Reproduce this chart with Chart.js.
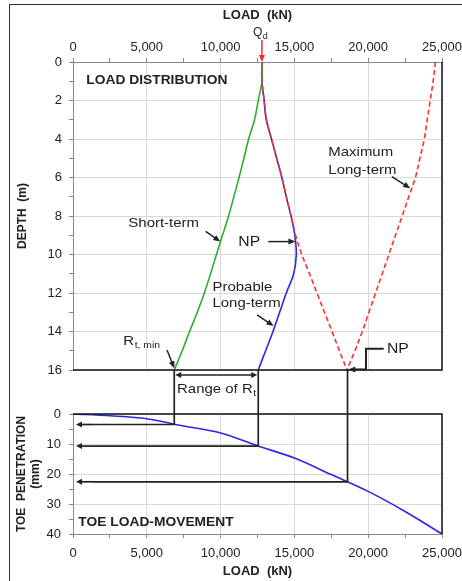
<!DOCTYPE html>
<html lang="en">
<head>
<meta charset="UTF-8">
<title>Load distribution and toe load-movement</title>
<script src="https://cdn.jsdelivr.net/npm/chart.js"></script>
<style>
    html, body { margin: 0; padding: 0; background: #fff; overflow: hidden; }
    #wrap { position: relative; width: 462px; height: 581px; overflow: hidden; }
    #frame { position: absolute; left: 9px; top: 4px; width: 480px; height: 600px;
             border-top: 1.5px solid #333; border-left: 1.5px solid #333; }
    #topChart { position: absolute; left: 0; top: 0; }
    #toeChart { position: absolute; left: 0; top: 360px; }
</style>
</head>
<body>
<div id="wrap">
    <div id="frame"></div>
    <canvas id="topChart" width="470" height="400"></canvas>
    <canvas id="toeChart" width="470" height="221"></canvas>
</div>
<script>
    // depth (m), shared by the load distribution curves
    const depths = [0, 1, 2, 3, 4, 5, 6, 7, 8, 9, 10, 11, 12, 13, 14, 15, 16];
    // short-term load (kN)
    const shortTerm = [12800, 12800, 12550, 12300, 11900, 11580, 11250, 10900, 10540, 10130, 9720, 9320, 8900, 8420, 7900, 7400, 6860];
    // probable long-term
    const probable = [12800, 12800, 12950, 13100, 13450, 13800, 14150, 14450, 14770, 15030, 15130, 14950, 14450, 14000, 13550, 13050, 12550];
    // maximum long-term (red dashed): branch above the NP and branch below it
    const maxUpper = [12800, 12800, 12950, 13100, 13450, 13800, 14150, 14450, 14770, 15080, 15500, 16020, 16530, 17040, 17550, 18050, 18560];
    const maxLower = [24550, 24400, 24200, 24000, 23800, 23500, 23200, 22750, 22300, 21850, 21400, 20950, 20500, 20050, 19600, 19100, 18560];
    // toe load-movement
    const toeLoads = [0, 2500, 5000, 7500, 10000, 12500, 15000, 17500, 20000, 22500, 25000];
    const toeMoves = [0, 0.6, 1.6, 4.0, 6.3, 10.6, 14.7, 20.2, 25.8, 32.5, 40];
    // toe resistances carried down to the load-movement curve
    const rtLoads = [6860, 12550, 18600];
    const rtMoves = [3.5, 10.7, 22.6];

    const FONT = "'Liberation Sans', Arial, sans-serif";
    const INK = '#222';

    function pts(xs, ys) {
        return xs.map((v, i) => ({x: v, y: ys[i]}));
    }

    function arrowTo(ctx, x1, y1, x2, y2, opt) {
        const o = Object.assign({color: INK, width: 1.5, head: 7, spread: 3}, opt);
        const a = Math.atan2(y2 - y1, x2 - x1);
        const c = Math.cos(a), s = Math.sin(a);
        ctx.save();
        ctx.strokeStyle = o.color;
        ctx.fillStyle = o.color;
        ctx.lineWidth = o.width;
        ctx.beginPath();
        ctx.moveTo(x1, y1);
        ctx.lineTo(x2 - c * o.head * 0.8, y2 - s * o.head * 0.8);
        ctx.stroke();
        ctx.beginPath();
        ctx.moveTo(x2, y2);
        ctx.lineTo(x2 - o.head * c + o.spread * s, y2 - o.head * s - o.spread * c);
        ctx.lineTo(x2 - o.head * c - o.spread * s, y2 - o.head * s + o.spread * c);
        ctx.closePath();
        ctx.fill();
        ctx.restore();
    }

    function note(ctx, text, x, y, size, opt) {
        const o = Object.assign({bold: false, stretch: 1.15, sub: null}, opt);
        ctx.save();
        ctx.fillStyle = INK;
        ctx.textBaseline = 'middle';
        ctx.textAlign = 'left';
        ctx.font = (o.bold ? 'bold ' : '') + size + 'px ' + FONT;
        ctx.translate(x, y);
        ctx.scale(o.stretch, 1);
        ctx.fillText(text, 0, 0);
        if (o.sub) {
            const w = ctx.measureText(text).width;
            ctx.font = Math.round(size * 0.72) + 'px ' + FONT;
            ctx.fillText(o.sub, w + 0.5, size * 0.32);
        }
        ctx.restore();
    }

    function polyline(ctx, list, color, width) {
        ctx.save();
        ctx.strokeStyle = color;
        ctx.lineWidth = width;
        ctx.beginPath();
        list.forEach((p, i) => i ? ctx.lineTo(p[0], p[1]) : ctx.moveTo(p[0], p[1]));
        ctx.stroke();
        ctx.restore();
    }

    const fmt = v => v.toLocaleString('en-US');

    const topNotes = {
        id: 'topNotes',
        afterDraw(chart) {
            const {ctx, chartArea: a, scales: {x, y}} = chart;
            const X = v => x.getPixelForValue(v);
            const Y = v => y.getPixelForValue(v);

            polyline(ctx, [[a.right, a.top], [a.right, a.bottom], [a.left, a.bottom]], '#111', 1.5);

            // Qd
            const qx = X(shortTerm[0]);
            arrowTo(ctx, qx, a.top - 22, qx, a.top, {color: '#f03030', width: 1.5, head: 7, spread: 3});
            note(ctx, 'Q', qx - 9, a.top - 29, 12, {stretch: 1, sub: 'd'});

            note(ctx, 'LOAD DISTRIBUTION', X(900), Y(0.95), 12, {bold: true});

            note(ctx, 'Short-term', X(3750), Y(8.36), 13);
            arrowTo(ctx, X(8990), Y(8.8), X(9980), Y(9.33));

            note(ctx, 'NP', X(11200), Y(9.33), 15, {stretch: 1.05});
            arrowTo(ctx, X(13230), Y(9.33), X(15070), Y(9.33));

            note(ctx, 'Maximum', X(17300), Y(4.68), 13);
            note(ctx, 'Long-term', X(17300), Y(5.61), 13);
            arrowTo(ctx, X(21600), Y(5.95), X(22850), Y(6.56));

            note(ctx, 'Probable', X(9450), Y(11.69), 13);
            note(ctx, 'Long-term', X(9450), Y(12.52), 13);
            arrowTo(ctx, X(12470), Y(13.14), X(13590), Y(13.71));

            note(ctx, 'R', X(3410), Y(14.53), 13, {sub: 't, min'});
            arrowTo(ctx, X(6370), Y(14.96), X(6860), Y(15.91));

            // range of Rt
            const r1 = X(shortTerm[shortTerm.length - 1]) + 1;
            const r2 = X(probable[probable.length - 1]) - 1;
            const ry = Y(16.26);
            const rm = (r1 + r2) / 2;
            arrowTo(ctx, rm, ry, r1, ry, {head: 6});
            arrowTo(ctx, rm, ry, r2, ry, {head: 6});
            note(ctx, 'Range of R', X(7050), Y(17.02), 13, {sub: 't'});

            // lower NP
            note(ctx, 'NP', X(21270), Y(14.9), 15, {stretch: 1.05});
            polyline(ctx, [[X(21050), Y(14.9)], [X(19850), Y(14.9)], [X(19850), Y(15.97)]], INK, 2);
            arrowTo(ctx, X(19850), Y(15.97), X(18650), Y(15.97), {width: 2});
        }
    };

    const toeNotes = {
        id: 'toeNotes',
        afterDraw(chart) {
            const {ctx, chartArea: a, scales: {x, y}} = chart;
            const X = v => x.getPixelForValue(v);
            const Y = v => y.getPixelForValue(v);

            polyline(ctx, [[a.left, a.top], [a.right, a.top], [a.right, a.bottom]], '#111', 1.5);

            note(ctx, 'TOE LOAD-MOVEMENT', X(360), Y(36.1), 12, {bold: true});

            // carry the toe resistances down from the load distribution
            const shift = chart.canvas.offsetTop - topChart.canvas.offsetTop;
            const yStart = topChart.chartArea.bottom - shift;
            rtLoads.forEach((load, i) => {
                const px = X(load);
                const py = Y(rtMoves[i]);
                polyline(ctx, [[px, yStart], [px, py], [a.left + 20, py]], INK, 1.7);
                arrowTo(ctx, a.left + 20, py, a.left + 3, py, {width: 1.7, head: 6});
            });
        }
    };

    function axisTicks(step, major) {
        return {
            stepSize: step,
            autoSkip: false,
            maxRotation: 0,
            color: INK,
            font: {family: FONT, size: 13},
            callback: v => (Math.abs(v % major) < 1e-9 ? fmt(v) : '')
        };
    }

    function axisGrid(major) {
        return {
            color: c => (c.tick && Math.abs(c.tick.value % major) < 1e-9 ? '#d9d9d9' : 'rgba(0,0,0,0)'),
            tickColor: '#888',
            tickLength: 4,
            lineWidth: 1
        };
    }

    function curve(label, xs, ys, color, dashed) {
        return {
            label: label,
            data: pts(xs, ys),
            showLine: true,
            borderColor: color,
            borderWidth: 1.6,
            borderDash: dashed ? [5, 3] : [],
            tension: 0.35,
            pointRadius: 0
        };
    }

    const topChart = new Chart(document.getElementById('topChart'), {
        type: 'scatter',
        data: {
            datasets: [
                curve('Maximum Long-term (upper)', maxUpper, depths, '#ff3030', true),
                curve('Maximum Long-term (lower)', maxLower, depths, '#ff3030', true),
                curve('Short-term', shortTerm, depths, '#33aa33', false),
                curve('Probable Long-term', probable, depths, '#2828e6', false)
            ]
        },
        options: {
            responsive: false,
            animation: false,
            layout: {padding: {top: 5, left: 0, right: 28, bottom: 30}},
            plugins: {legend: {display: false}, tooltip: {enabled: false}},
            scales: {
                x: {
                    type: 'linear',
                    position: 'top',
                    min: 0,
                    max: 25000,
                    ticks: Object.assign(axisTicks(2500, 5000), {padding: 3}),
                    grid: axisGrid(5000),
                    border: {color: '#888'},
                    title: {display: true, text: 'LOAD  (kN)', color: INK,
                            font: {family: FONT, size: 13, weight: 'bold'}, padding: {top: 3, bottom: 0}},
                    afterFit: s => { s.height = 57; }
                },
                y: {
                    type: 'linear',
                    reverse: true,
                    min: 0,
                    max: 16,
                    ticks: Object.assign(axisTicks(1, 2), {padding: 7}),
                    grid: axisGrid(2),
                    border: {color: '#888'},
                    title: {display: true, text: 'DEPTH  (m)', color: INK,
                            font: {family: FONT, size: 12, weight: 'bold'}, padding: {top: 15, bottom: 0}},
                    afterFit: s => { s.width = 73; }
                }
            }
        },
        plugins: [topNotes]
    });

    const toeChart = new Chart(document.getElementById('toeChart'), {
        type: 'scatter',
        data: {
            datasets: [
                curve('Toe load-movement', toeLoads, toeMoves, '#2828e6', false)
            ]
        },
        options: {
            responsive: false,
            animation: false,
            layout: {padding: {top: 54, left: 0, right: 28, bottom: 0}},
            plugins: {legend: {display: false}, tooltip: {enabled: false}},
            scales: {
                x: {
                    type: 'linear',
                    position: 'bottom',
                    min: 0,
                    max: 25000,
                    ticks: Object.assign(axisTicks(2500, 5000), {padding: 8}),
                    grid: axisGrid(5000),
                    border: {color: '#888'},
                    title: {display: true, text: 'LOAD  (kN)', color: INK,
                            font: {family: FONT, size: 13, weight: 'bold'}, padding: {top: 0, bottom: 2}},
                    afterFit: s => { s.height = 47; }
                },
                y: {
                    type: 'linear',
                    reverse: true,
                    min: 0,
                    max: 40,
                    ticks: Object.assign(axisTicks(5, 10), {padding: 8}),
                    grid: axisGrid(10),
                    border: {color: '#888'},
                    title: {display: true, text: ['TOE  PENETRATION', '(mm)'], color: INK,
                            font: {family: FONT, size: 12, weight: 'bold', lineHeight: 1.15}, padding: {top: 15, bottom: 0}},
                    afterFit: s => { s.width = 73; }
                }
            }
        },
        plugins: [toeNotes]
    });
</script>
</body>
</html>
